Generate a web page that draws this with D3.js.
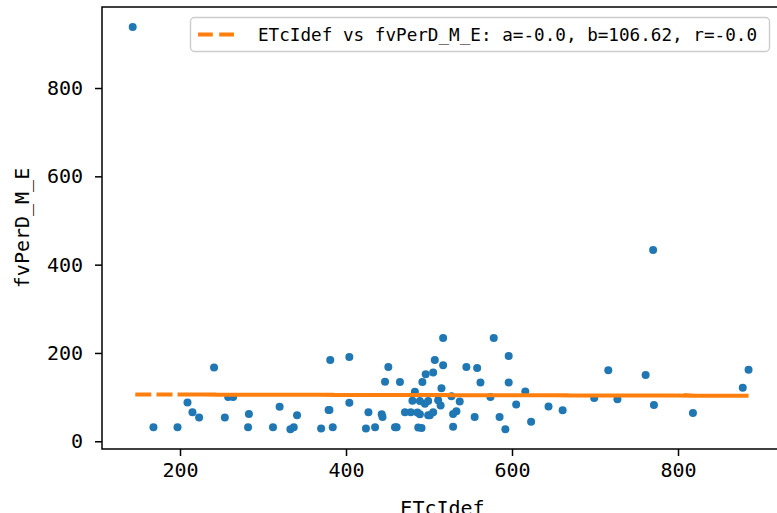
<!DOCTYPE html>
<html><head><meta charset="utf-8">
<script src="https://cdn.jsdelivr.net/npm/d3@7"></script>
<style>body{margin:0;background:#fff;overflow:hidden}svg{display:block}</style>
</head><body>
<svg id="chart" width="777" height="513"></svg>
<script>
// ---- data ----
const xValues = [496,168,818,283,527,143,605,404,241,885,451,312,592,499,770,254,517,384,716,461,215,562,341,489,727,427,197,578,511,264,537,370,761,447,623,492,209,529,380,505,644,478,333,699,487,545,258,596,435,555,223,514,480,661,443,574,337,486,471,878,491,379,501,533,465,282,616,424,483,320,529,585,507,771,444,558,459,495,596,404,515,517,489,499,505,381];
const yValues = [152,32,64,62,102,938,83,87,167,162,168,32,27,59,433,54,234,32,161,32,66,133,59,61,95,66,32,234,93,100,90,29,150,135,44,134,88,33,71,156,79,66,27,98,31,168,100,193,32,55,54,81,92,70,61,100,32,65,66,121,30,71,59,68,134,32,113,29,112,78,62,55,184,82,55,166,32,85,133,191,120,172,91,91,66,184];
const fitA = -0.004, fitB = 106.62;
const xTicks = [200, 400, 600, 800];
const yTicks = [0, 200, 400, 600, 800];
const legendLabel = "ETcIdef vs fvPerD_M_E: a=-0.0, b=106.62, r=-0.0";
const xLabel = "ETcIdef", yLabel = "fvPerD_M_E";

const svg = d3.select("#chart");
const L = 102, R = 783, T = 7, B = 449;
const x = d3.scaleLinear().domain([106, 926.5]).range([L, R]);
const y = d3.scaleLinear().domain([-17.5, 983.5]).range([B, T]);
const mono = "'DejaVu Sans Mono', 'Liberation Mono', monospace";

const pts = xValues.map((v, i) => ({x: v, y: yValues[i]}));

// scatter
svg.append("g").selectAll("circle").data(pts).join("circle")
  .attr("cx", d => x(d.x)).attr("cy", d => y(d.y)).attr("r", 4)
  .attr("fill", "#1f77b4");

// fit line (drawn in data order)
const line = d3.line().x(d => x(d.x)).y(d => y(fitB + fitA * d.x));
svg.append("path").datum(pts).attr("d", line)
  .attr("fill", "none").attr("stroke", "#ff7f0e").attr("stroke-width", 4)
  .attr("stroke-dasharray", "14.8,6.4");

// axes
const xAxis = d3.axisBottom(x).tickValues(xTicks).tickSize(7).tickPadding(7).tickFormat(d3.format("d"));
const yAxis = d3.axisLeft(y).tickValues(yTicks).tickSize(7).tickPadding(12).tickFormat(d3.format("d"));
const gx = svg.append("g").attr("transform", `translate(0,${B})`).call(xAxis);
const gy = svg.append("g").attr("transform", `translate(${L},0)`).call(yAxis);
[gx, gy].forEach(g => {
  g.select(".domain").remove();
  g.selectAll(".tick line").attr("stroke", "#000").attr("stroke-width", 1.5);
  g.selectAll(".tick text").attr("fill", "#000").style("font-family", mono).style("font-size", "20px");
});
// spines
svg.append("rect").attr("x", L).attr("y", T).attr("width", R - L).attr("height", B - T)
  .attr("fill", "none").attr("stroke", "#000").attr("stroke-width", 1.5);

// axis labels (the reference shows the x label partly cut by the bottom edge)
svg.append("text").attr("x", (L + R) / 2).attr("y", 515).attr("text-anchor", "middle")
  .style("font-family", mono).style("font-size", "20px").text(xLabel);
svg.append("text").attr("transform", `translate(29,${(T + B) / 2}) rotate(-90)`).attr("text-anchor", "middle")
  .style("font-family", mono).style("font-size", "20px").text(yLabel);

// legend
const lg = svg.append("g");
lg.append("rect").attr("x", 190.5).attr("y", 17.5).attr("width", 579).attr("height", 34).attr("rx", 4)
  .attr("fill", "#fff").attr("fill-opacity", 0.8).attr("stroke", "#cccccc").attr("stroke-width", 1.4);
lg.append("line").attr("x1", 198).attr("x2", 239).attr("y1", 34.5).attr("y2", 34.5)
  .attr("stroke", "#ff7f0e").attr("stroke-width", 4).attr("stroke-dasharray", "14.8,6.4");
lg.append("text").attr("x", 258).attr("y", 41).style("font-family", mono).style("font-size", "17.3px")
  .attr("textLength", 499).attr("lengthAdjust", "spacingAndGlyphs").text(legendLabel);
</script>
</body></html>
